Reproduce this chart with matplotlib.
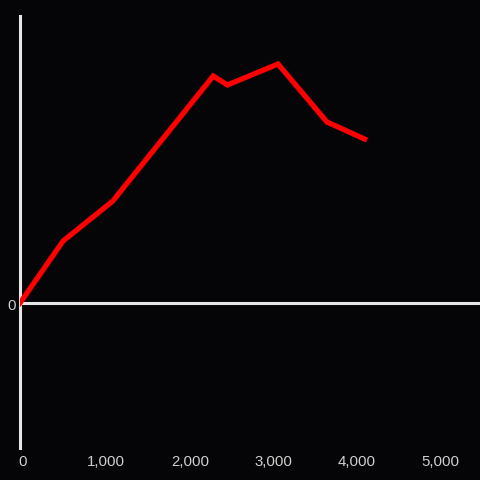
import matplotlib
matplotlib.use('Agg')
import matplotlib.pyplot as plt
import matplotlib.transforms as mtransforms

# values
x_vals = [0, 515, 1110, 2310, 2480, 3085, 3670, 4120]
y_vals = [0, 62, 102, 227, 218, 239, 181, 164]
x_ticks = [0, 1000, 2000, 3000, 4000, 5000]
x_labels = ['0', '1,000', '2,000', '3,000', '4,000', '5,000']

bg = '#050407'
fig = plt.figure(figsize=(4.8, 4.8), dpi=100, facecolor=bg)
ax = fig.add_axes([20/480, 32/480, 460/480, 432/480], facecolor=bg)

ax.plot(x_vals, y_vals, color='#ff0000', linewidth=3.8, solid_joinstyle='miter', zorder=3)
ax.axhline(0, color='#e6e6e6', linewidth=2.2, zorder=2)

ax.set_xlim(0, 5500)
ax.set_ylim(-145, 287)

for s in ['top', 'right', 'bottom']:
    ax.spines[s].set_visible(False)
ax.spines['left'].set_color('#e6e6e6')
ax.spines['left'].set_linewidth(2.2)

ax.set_xticks(x_ticks)
ax.set_xticklabels(x_labels)
ax.set_yticks([0])
ax.set_yticklabels(['0'])
ax.tick_params(axis='both', length=0, colors='#cfcfcf', labelsize=10.8)
ax.tick_params(axis='x', pad=5)
ax.tick_params(axis='y', pad=3)
shift = mtransforms.ScaledTranslation(2.5/100, 0, fig.dpi_scale_trans)
for lab in ax.get_xticklabels():
    lab.set_family('Liberation Sans')
    lab.set_transform(lab.get_transform() + shift)
for lab in ax.get_yticklabels():
    lab.set_family('Liberation Sans')
    lab.set_transform(lab.get_transform() + mtransforms.ScaledTranslation(0, -1.5/100, fig.dpi_scale_trans))

fig.savefig('out.png', dpi=100, facecolor=bg)
